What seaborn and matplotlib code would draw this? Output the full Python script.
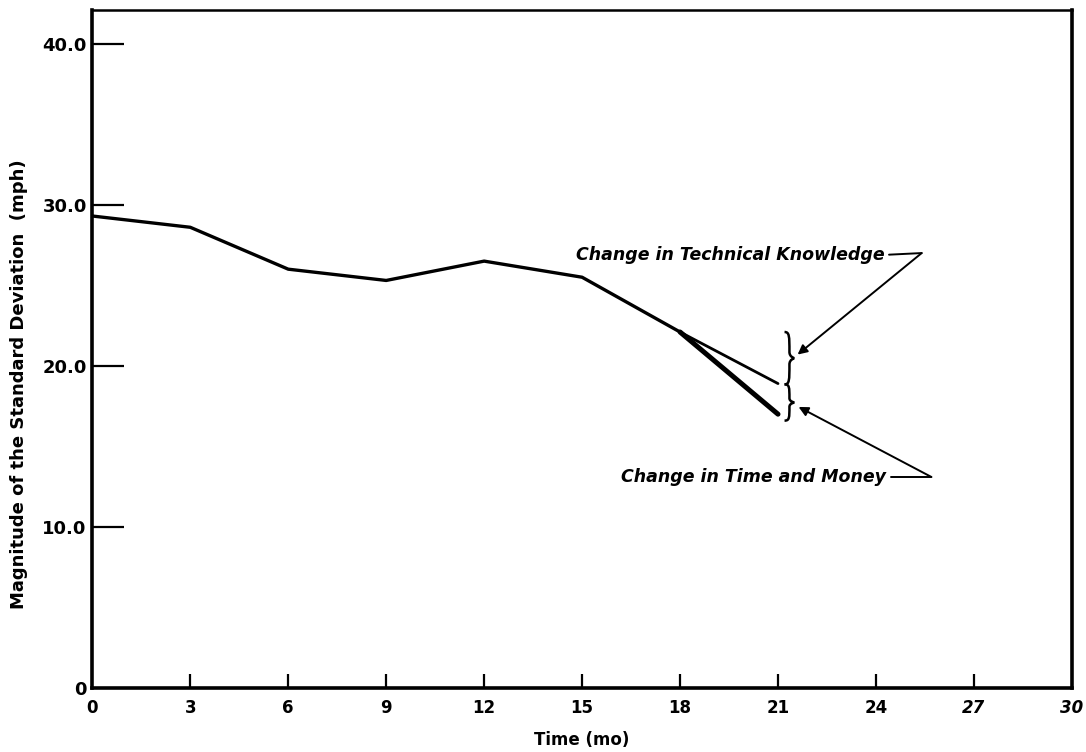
import numpy as np
import pandas as pd
import matplotlib
matplotlib.use("Agg")
import matplotlib.pyplot as plt
from matplotlib.path import Path
from matplotlib.patches import PathPatch
import seaborn as sns

# Standard deviation of the estimate over time (mph)
months = [0, 3, 6, 9, 12, 15, 18]
std_dev = [29.3, 28.6, 26.0, 25.3, 26.5, 25.5, 22.1]

# Projected branches from month 18 to month 21
branch_months = [18, 21]
knowledge_branch = [22.1, 18.9]
time_money_branch = [22.1, 17.0]

x_ticks = [0, 3, 6, 9, 12, 15, 18, 21, 24, 27, 30]
x_tick_labels = ["0", "3", "6", "9", "12", "15", "18", "21", "24", "27", "30"]
y_ticks = [0, 10, 20, 30, 40]
y_tick_labels = ["0", "10.0", "20.0", "30.0", "40.0"]

label_knowledge = "Change in Technical Knowledge"
label_time_money = "Change in Time and Money"

sns.set_theme(style="white")
plt.rcParams["font.family"] = ["DejaVu Sans"]
plt.rcParams["text.color"] = "black"
plt.rcParams["axes.labelcolor"] = "black"
plt.rcParams["xtick.color"] = "black"
plt.rcParams["ytick.color"] = "black"

fig = plt.figure(figsize=(10.86, 7.52), dpi=100)
ax = fig.add_axes([0.085, 0.085, 0.902, 0.902])

main_df = pd.DataFrame({"month": months, "std": std_dev})
sns.lineplot(data=main_df, x="month", y="std", ax=ax, color="black",
             linewidth=2.4, sort=False)
sns.lineplot(x=branch_months, y=knowledge_branch, ax=ax, color="black",
             linewidth=2.0)
sns.lineplot(x=branch_months, y=time_money_branch, ax=ax, color="black",
             linewidth=3.6)

ax.set_xlim(0, 30)
ax.set_ylim(0, 42.1)

ax.set_xticks(x_ticks)
ax.set_xticklabels(x_tick_labels, fontsize=12, fontweight="bold")
for lbl in ax.get_xticklabels()[-2:]:
    lbl.set_style("italic")
ax.set_yticks(y_ticks)
ax.set_yticklabels(y_tick_labels, fontsize=13, fontweight="bold")

ax.tick_params(axis="x", direction="in", length=10, width=1.6, pad=8,
               colors="black", bottom=True)
ax.tick_params(axis="y", direction="in", length=23, width=1.6, pad=4,
               colors="black", left=True)
ax.xaxis.get_major_ticks()[0].tick1line.set_visible(False)
ax.xaxis.get_major_ticks()[-1].tick1line.set_visible(False)
ax.yaxis.get_major_ticks()[0].tick1line.set_visible(False)

for side in ["left", "bottom", "right", "top"]:
    ax.spines[side].set_visible(True)
    ax.spines[side].set_color("black")
    ax.spines[side].set_linewidth(2.6)
ax.spines["top"].set_linewidth(1.8)

ax.set_xlabel("Time (mo)", fontsize=12, fontweight="bold", labelpad=10,
              color="black")
ax.set_ylabel("Magnitude of the Standard Deviation  (mph)", fontsize=13,
              fontweight="bold", color="black")
ax.yaxis.set_label_coords(-0.066, 0.448)


def curly_brace(ax, x, y_top, y_bottom, width):
    """Right-pointing curly brace between y_top and y_bottom at x."""
    ym = (y_top + y_bottom) / 2.0
    h = (y_top - y_bottom)
    w = width
    verts = [
        (x - w * 0.5, y_top),
        (x, y_top), (x, y_top - h * 0.08), (x, ym + h * 0.12),
        (x, ym + h * 0.02), (x + w * 0.5, ym), (x + w * 0.5, ym),
        (x + w * 0.5, ym), (x, ym - h * 0.02), (x, ym - h * 0.12),
        (x, y_bottom + h * 0.08), (x, y_bottom), (x - w * 0.5, y_bottom),
    ]
    codes = [Path.MOVETO] + [Path.CURVE4] * 12
    ax.add_patch(PathPatch(Path(verts, codes), facecolor="none",
                           edgecolor="black", linewidth=1.8))


brace_x = branch_months[-1] + 0.35
curly_brace(ax, brace_x, knowledge_branch[0], knowledge_branch[-1] - 0.05, 0.3)
curly_brace(ax, brace_x, knowledge_branch[-1] - 0.05, time_money_branch[-1] - 0.4, 0.3)

text_kw = dict(fontsize=12.5, fontweight="bold", style="italic", ha="right",
               va="center", color="black")
ax.text(24.25, 26.9, label_knowledge, **text_kw)
ax.text(24.3, 13.1, label_time_money, **text_kw)

# leader lines from the labels to the braces
ax.plot([24.4, 25.4], [26.9, 27.0], color="black", linewidth=1.4)
ax.annotate("", xy=(brace_x + 0.25, 20.7), xytext=(25.4, 27.0),
            arrowprops=dict(arrowstyle="-|>", color="black", lw=1.4,
                            mutation_scale=14, shrinkA=0, shrinkB=0))
ax.plot([24.45, 25.7], [13.1, 13.1], color="black", linewidth=1.4)
ax.annotate("", xy=(brace_x + 0.28, 17.45), xytext=(25.7, 13.1),
            arrowprops=dict(arrowstyle="-|>", color="black", lw=1.4,
                            mutation_scale=14, shrinkA=0, shrinkB=0))

fig.savefig("out.png", dpi=100, facecolor="white")
